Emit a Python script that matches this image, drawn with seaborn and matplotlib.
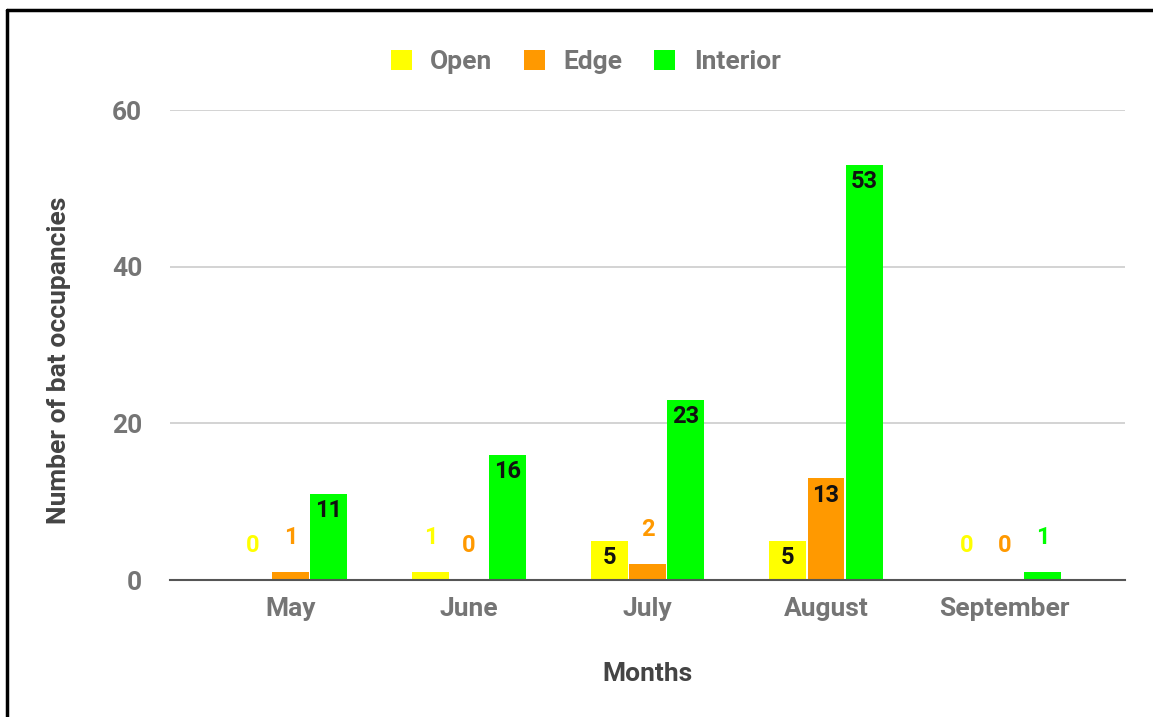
import matplotlib
matplotlib.use("Agg")
import matplotlib.pyplot as plt
import seaborn as sns
import pandas as pd
from matplotlib.lines import Line2D
from matplotlib.patches import Patch

months = ["May", "June", "July", "August", "September"]
habitats = ["Open", "Edge", "Interior"]
open_vals = [0, 1, 5, 5, 0]
edge_vals = [1, 0, 2, 13, 0]
interior_vals = [11, 16, 23, 53, 1]
colors = ["#ffff00", "#ff9900", "#00ff00"]

df = pd.DataFrame({
    "month": months * 3,
    "habitat": ["Open"] * 5 + ["Edge"] * 5 + ["Interior"] * 5,
    "count": open_vals + edge_vals + interior_vals,
})

sns.set_style("white")
plt.rcParams["font.family"] = ["Roboto", "DejaVu Sans"]
plt.rcParams["font.weight"] = "bold"

fig = plt.figure(figsize=(11.53, 7.17), dpi=100)
ax = fig.add_axes([170 / 1153, 1 - 580 / 717, (1125 - 170) / 1153, (580 - 110) / 717])

sns.barplot(data=df, x="month", y="count", hue="habitat", order=months,
            hue_order=habitats, palette=colors, width=0.64, gap=0.03,
            saturation=1, ax=ax, legend=False, linewidth=0)

ax.set_ylim(0, 60)
ax.set_xlim(-0.675, 4.675)
ax.set_yticks([0, 20, 40, 60])
ax.grid(axis="y", color="#cccccc", linewidth=1.2)
ax.set_axisbelow(True)
for s in ["top", "right", "left"]:
    ax.spines[s].set_visible(False)
ax.spines["bottom"].set_color("#555555")
ax.spines["bottom"].set_linewidth(1.5)
ax.tick_params(axis="both", length=0, labelsize=19, labelcolor="#757575", pad=12)
ax.tick_params(axis="y", pad=20)
for lbl in ax.get_xticklabels() + ax.get_yticklabels():
    lbl.set_fontweight("bold")

ax.set_xlabel("Months", fontsize=19, fontweight="bold", color="#444444", labelpad=30)
ax.set_ylabel("Number of bat occupancies", fontsize=19, fontweight="bold", color="#444444")
ax.yaxis.set_label_coords(-0.104, 0.468)

# value labels
for container, col in zip(ax.containers, colors):
    for bar in container:
        v = bar.get_height()
        xc = bar.get_x() + bar.get_width() / 2
        if v >= 5:
            ax.annotate(f"{int(v)}", (xc, v), xytext=(0, -4), textcoords="offset points",
                        ha="center", va="top", fontsize=17, fontweight="bold", color="#111111")
        else:
            ax.annotate(f"{int(v)}", (xc, v), xytext=(0, 25), textcoords="offset points",
                        ha="center", va="center", fontsize=17, fontweight="bold", color=col)

handles = [Patch(facecolor=c, edgecolor="none") for c in colors]
fig.legend(handles, habitats, loc="center", bbox_to_anchor=(0.508, 1 - 62 / 717), ncol=3,
           frameon=False, labelcolor="#757575", handlelength=0.8,
           handleheight=0.8, handletextpad=0.7, columnspacing=1.2,
           prop={"weight": "bold", "size": 19})

# frame around the chart
fig.add_artist(Line2D([7 / 1153, 7 / 1153], [0, 1 - 10 / 717], transform=fig.transFigure,
                      color="black", linewidth=2.5))
fig.add_artist(Line2D([7 / 1153, 1], [1 - 10 / 717, 1 - 10 / 717], transform=fig.transFigure,
                      color="black", linewidth=2.5))

fig.savefig("out.png", dpi=100)
